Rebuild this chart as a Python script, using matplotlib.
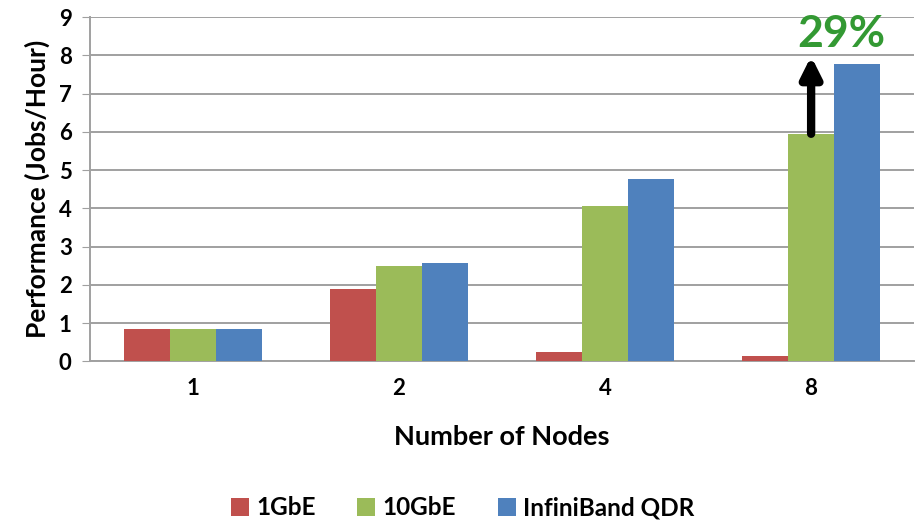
import numpy as np
import matplotlib.pyplot as plt
from matplotlib.patches import Patch

nodes = ["1", "2", "4", "8"]
gbe1 = [0.83, 1.88, 0.25, 0.13]
gbe10 = [0.83, 2.48, 4.05, 5.95]
ib_qdr = [0.83, 2.58, 4.78, 7.77]
series_names = ["1GbE", "10GbE", "InfiniBand QDR"]
colors = ["#C0504D", "#9BBB59", "#4F81BD"]
gain_label = "29%"

plt.rcParams['font.family'] = ['Lato', 'DejaVu Sans']
plt.rcParams['font.weight'] = 'bold'

fig = plt.figure(figsize=(9.16, 5.22), dpi=100)
ax = fig.add_axes([0.098, 0.308, 0.900, 0.659])

x = np.arange(len(nodes))
w = 0.224
for i, (vals, c) in enumerate(zip([gbe1, gbe10, ib_qdr], colors)):
    ax.bar(x + (i - 1) * w, vals, w, color=c, edgecolor='none', zorder=3)

ax.set_xlim(-0.5, 3.5)
ax.set_ylim(0, 9)
ax.set_yticks(range(10))
ax.set_xticks(x)
ax.set_xticklabels(nodes)
ax.yaxis.grid(True, color='#a0a0a0', lw=1.4, zorder=0)
for s in ['top', 'right']:
    ax.spines[s].set_visible(False)
for s in ['left', 'bottom']:
    ax.spines[s].set_color('#a0a0a0')
    ax.spines[s].set_linewidth(1.4)
ax.tick_params(axis='y', length=6, color='#a0a0a0', labelsize=16, pad=7)
ax.tick_params(axis='x', length=0, labelsize=16, pad=12)
ax.set_ylabel("Performance (Jobs/Hour)", fontsize=19, fontweight='bold', labelpad=6)
ax.set_xlabel("Number of Nodes", fontsize=19.5, fontweight='bold', labelpad=19)

# arrow from the 10GbE bar up to the InfiniBand level at 8 nodes
ax.annotate("", xy=(3, 7.98), xytext=(3, gbe10[3]),
            arrowprops=dict(arrowstyle='-|>', lw=6, color='black',
                            mutation_scale=30, shrinkA=0, shrinkB=0),
            zorder=5)
ax.text(3.145, 8.55, gain_label, color='#339933', fontsize=32,
        fontweight='bold', ha='center', va='center', zorder=5)

handles = [Patch(facecolor=c, edgecolor='none') for c in colors]
fig.legend(handles, series_names, loc='center', bbox_to_anchor=(0.505, 0.027),
           ncol=3, frameon=False, fontsize=17.5, handlelength=0.75,
           handleheight=0.75, handletextpad=0.3, columnspacing=1.7)

fig.savefig("out.png", dpi=100)
